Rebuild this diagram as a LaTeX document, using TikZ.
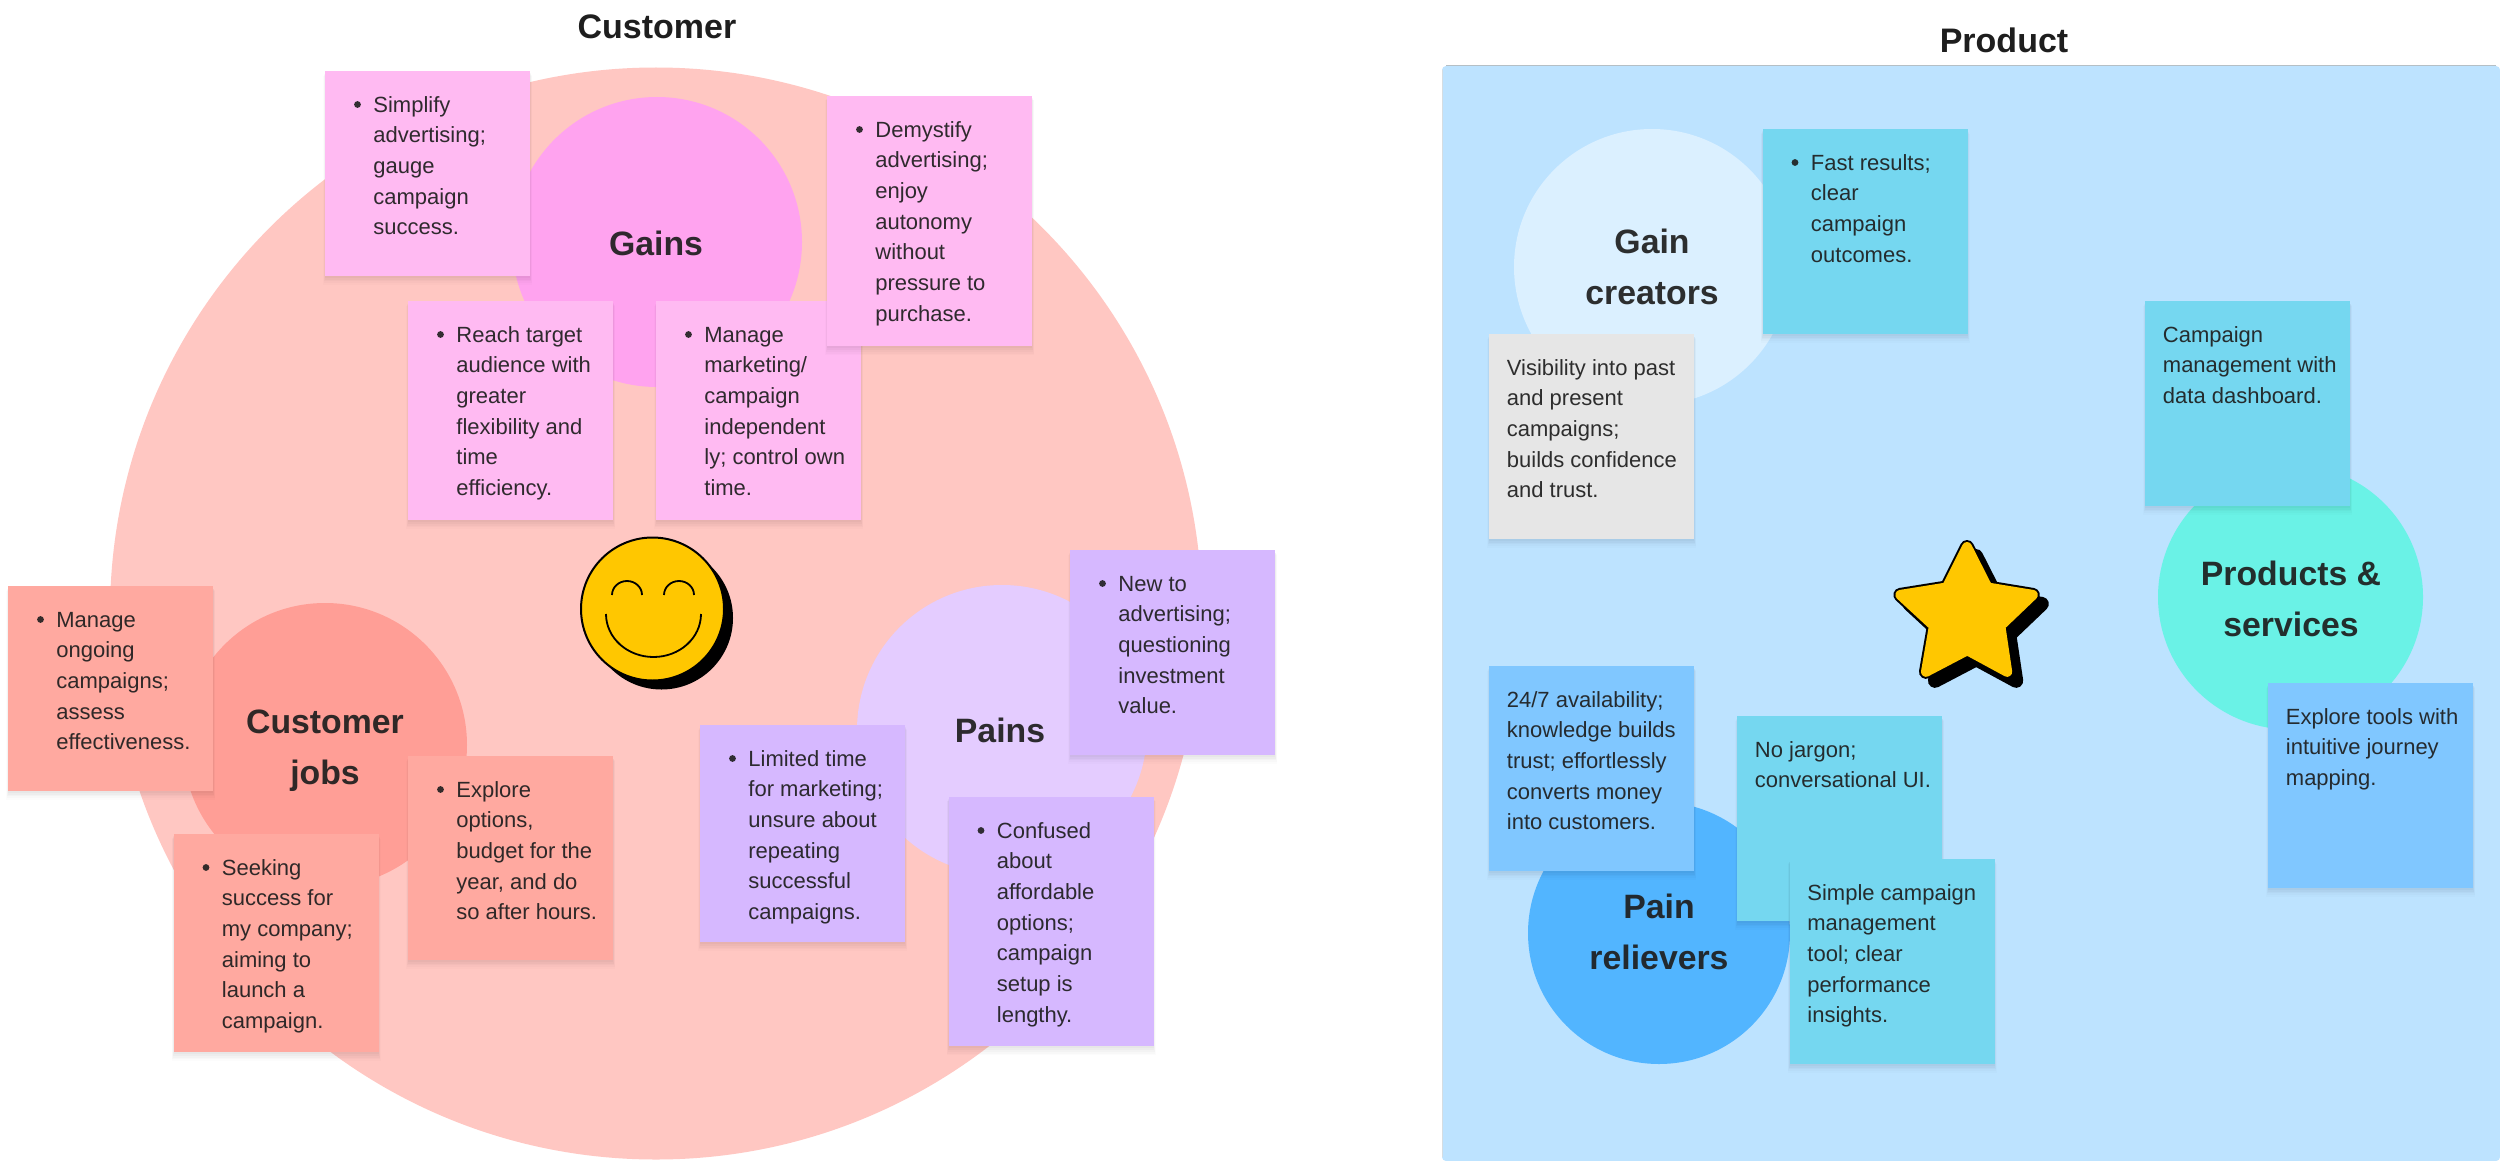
\documentclass[tikz,border=0pt]{standalone}
\usepackage{fontspec}
\setmainfont{Liberation Sans}
\usetikzlibrary{shadows}
\definecolor{ink}{HTML}{1E1E1E}
\definecolor{bigpink}{HTML}{FFC7C2}
\definecolor{gainc}{HTML}{FFA3EF}
\definecolor{gainn}{HTML}{FFBAF2}
\definecolor{jobc}{HTML}{FF9E96}
\definecolor{jobn}{HTML}{FFA9A0}
\definecolor{painc}{HTML}{E4CCFF}
\definecolor{painn}{HTML}{D6B8FF}
\definecolor{panel}{HTML}{BDE3FF}
\definecolor{gcc}{HTML}{DBF0FF}
\definecolor{teal}{HTML}{75D7F0}
\definecolor{prodc}{HTML}{6AF2E6}
\definecolor{bluen}{HTML}{80C7FF}
\definecolor{prc}{HTML}{52B5FF}
\definecolor{greyn}{HTML}{E6E6E6}
\definecolor{gold}{HTML}{FFC700}
\definecolor{hair}{HTML}{B5BFC5}
\definecolor{hairlight}{HTML}{D5DDE2}
\tikzset{
  notebox/.style={rectangle,inner sep=0pt,anchor=north west,minimum width=102.5pt,
    drop shadow={shadow xshift=0pt,shadow yshift=-3.2pt,shadow scale=1.02,opacity=.01,fill=black},
    drop shadow={shadow xshift=0pt,shadow yshift=-2.6pt,shadow scale=1.015,opacity=.015,fill=black},
    drop shadow={shadow xshift=0pt,shadow yshift=-2pt,shadow scale=1.01,opacity=.02,fill=black},
    drop shadow={shadow xshift=0pt,shadow yshift=-1.3pt,shadow scale=1.005,opacity=.025,fill=black},
    drop shadow={shadow xshift=0pt,shadow yshift=-.6pt,opacity=.025,fill=black}},
  notetext/.style={inner sep=0pt,anchor=north west,align=left,text=ink,text opacity=.92,
    font=\fontsize{11}{15.35}\selectfont},
  disc/.style={circle,inner sep=0pt,minimum size=#1*1pt},
  disclabel/.style={inner sep=0pt,align=center,text=ink,text opacity=.92,
    font=\fontsize{16.9}{25.5}\selectfont\bfseries},
  title/.style={inner sep=0pt,text=ink,font=\fontsize{17}{20}\selectfont\bfseries},
  facepart/.style={draw=black,line width=.9pt},
  starblack/.style={line join=round,fill=black,draw=black,line width=7pt},
  stargold/.style={line join=round,fill=gold,draw=gold,line width=5pt},
}
% name, x, y, height, colour, body
\newcommand\bnote[6]{%
  \node[notebox,fill=#5,minimum height={#4*0.5pt}] (#1) at (#2,#3) {};
  \fill[ink,opacity=.9] (#2+32.5,#3+33.5) circle[radius=3.4];
  \node[notetext] (#1t) at (#2+48,#3+20.7) {\rule{0pt}{10pt}#6};}
\newcommand\pnote[6]{%
  \node[notebox,fill=#5,minimum height={#4*0.5pt}] (#1) at (#2,#3) {};
  \node[notetext] (#1t) at (#2+17.5,#3+20.7) {\rule{0pt}{10pt}#6};}
% star outline about its centre, inset so a round-joined stroke restores the true size
\newcommand\starpath{(0,-76)--(24,-28.7)--(77,-20)--(39,16.3)--(47,70)--(0.3,44.7)--(-48,70)--(-38.7,16.3)--(-78,-20)--(-23.7,-28.7)--cycle}
\begin{document}
\begin{tikzpicture}[x=0.5pt,y=-0.5pt]
\useasboundingbox (0,0) rectangle (2500,1161);
\fill[white] (0,0) rectangle (2500,1161);
% customer side
\node[disc=546,fill=bigpink] (big) at (656,613.5) {};
\node[disc=145,fill=gainc] (gains) at (657,242) {};
\node[disclabel] (gainsl) at (656,243.5) {Gains};
\node[disc=142,fill=jobc] (jobs) at (325,745) {};
\node[disclabel] (jobsl) at (325,751) {Customer\\jobs};
\node[disc=145,fill=painc] (pains) at (1002,730) {};
\node[disclabel] (painsl) at (1000,730) {Pains};
\node[title] (tcust) at (657,27) {Customer};
\bnote{a}{325}{71}{205}{gainn}{Simplify\\advertising;\\gauge\\campaign\\success.}
\bnote{b}{408}{301}{219}{gainn}{Reach target\\audience with\\greater\\flexibility and\\time\\efficiency.}
\bnote{c}{656}{301}{219}{gainn}{Manage\\marketing/\\campaign\\independent\\ly; control own\\time.}
\bnote{d}{827}{96}{250}{gainn}{Demystify\\advertising;\\enjoy\\autonomy\\without\\pressure to\\purchase.}
\bnote{e}{8}{586}{205}{jobn}{Manage\\ongoing\\campaigns;\\assess\\effectiveness.}
\bnote{f}{408}{756}{204}{jobn}{Explore\\options,\\budget for the\\year, and do\\so after hours.}
\bnote{g}{173.5}{834}{218}{jobn}{Seeking\\success for\\my company;\\aiming to\\launch a\\campaign.}
\bnote{h}{700}{725}{217}{painn}{Limited time\\for marketing;\\unsure about\\repeating\\successful\\campaigns.}
\bnote{i}{1070}{550}{205}{painn}{New to\\advertising;\\questioning\\investment\\value.}
\bnote{j}{948.5}{797}{249}{painn}{Confused\\about\\affordable\\options;\\campaign\\setup is\\lengthy.}
% smiley
\node[disc=71.5,fill=black] (faceshadow) at (661.5,618) {};
\node[disc=71.5,fill=gold,draw=black,line width=1pt] (face) at (652.5,609) {};
\draw[facepart] (612,595) arc[start angle=180,end angle=360,x radius=15,y radius=14];
\draw[facepart] (664,595) arc[start angle=180,end angle=360,x radius=15,y radius=14];
\draw[facepart] (606,614) arc[start angle=180,end angle=0,x radius=47.5,y radius=43];
% product side
\fill[panel,rounded corners=2pt] (1442,66) rectangle (2500,1161);
\draw[hair,line width=.5pt] (1446,66)--(2496,66);
\draw[hairlight,line width=.5pt] (1442,70)--(1442,1157);
\node[title] (tprod) at (2004,40) {Product};
\node[disc=138,fill=gcc] (gc) at (1652,267) {};
\node[disclabel] (gcl) at (1652,267) {Gain\\creators};
\node[disc=132.5,fill=prodc] (ps) at (2290.5,597) {};
\node[disclabel] (psl) at (2291,598.5) {Products \&\\services};
\node[disc=131,fill=prc] (pr) at (1659,933) {};
\node[disclabel] (prl) at (1659,932) {Pain\\relievers};
\bnote{k}{1762.5}{129}{205}{teal}{Fast results;\\clear\\campaign\\outcomes.}
\pnote{l}{1489}{334}{205}{greyn}{Visibility into past\\and present\\campaigns;\\builds confidence\\and trust.}
\pnote{m}{2145}{301}{205}{teal}{Campaign\\management with\\data dashboard.}
\pnote{n}{2268}{683}{205}{bluen}{Explore tools with\\intuitive journey\\mapping.}
\pnote{o}{1489}{666}{205}{bluen}{24/7 availability;\\knowledge builds\\trust; effortlessly\\converts money\\into customers.}
\pnote{p}{1737}{716}{205}{teal}{No jargon;\\conversational UI.}
\pnote{q}{1789.5}{859}{205}{teal}{Simple campaign\\management\\tool; clear\\performance\\insights.}
% star
\begin{scope}[shift={(1976,621)},scale=.855]
\draw[starblack] \starpath;
\end{scope}
\begin{scope}[shift={(1967,612)},scale=.855]
\draw[starblack] \starpath;
\draw[stargold] \starpath;
\end{scope}
\end{tikzpicture}
\end{document}
